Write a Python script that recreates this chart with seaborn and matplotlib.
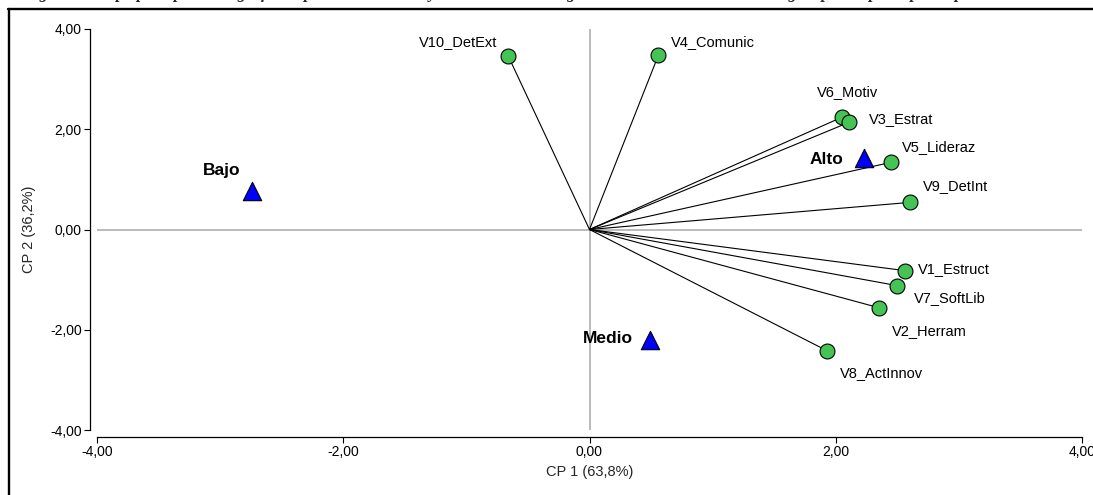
import matplotlib
matplotlib.use("Agg")
import matplotlib.pyplot as plt
import seaborn as sns
import pandas as pd
from matplotlib.lines import Line2D
from matplotlib.ticker import FuncFormatter

# ---------------- data ----------------
variables = ["V10_DetExt", "V4_Comunic", "V6_Motiv", "V3_Estrat", "V5_Lideraz",
             "V9_DetInt", "V1_Estruct", "V7_SoftLib", "V2_Herram", "V8_ActInnov"]
var_cp1 = [-0.66, 0.56, 2.05, 2.11, 2.45, 2.60, 2.56, 2.50, 2.35, 1.93]
var_cp2 = [3.46, 3.48, 2.24, 2.14, 1.34, 0.54, -0.82, -1.12, -1.56, -2.42]

niveles = ["Bajo", "Alto", "Medio"]
niv_cp1 = [-2.74, 2.23, 0.49]
niv_cp2 = [0.77, 1.43, -2.20]

axis_ticks = [-4, -2, 0, 2, 4]
x_label = "CP 1 (63,8%)"
y_label = "CP 2 (36,2%)"
title = ("Figura 4. Mapa perceptual del gráfico biplot de los niveles y las variables "
         "de la gestión de la innovación tecnológica por empresa participante")

# label placement (pixel offsets from the marker, horizontal alignment)
var_label_pos = {
    "V10_DetExt": (-11, 10, "right"),
    "V4_Comunic": (12, 9, "left"),
    "V6_Motiv": (-25, 21, "left"),
    "V3_Estrat": (20, -1, "left"),
    "V5_Lideraz": (11, 11, "left"),
    "V9_DetInt": (13, 12, "left"),
    "V1_Estruct": (13, -2, "left"),
    "V7_SoftLib": (17, -16, "left"),
    "V2_Herram": (13, -27, "left"),
    "V8_ActInnov": (13, -26, "left"),
}
niv_label_pos = {
    "Bajo": (-12, 16, "right"),
    "Alto": (-21, -6, "right"),
    "Medio": (-17, -3, "right"),
}

df_var = pd.DataFrame({"variable": variables, "cp1": var_cp1, "cp2": var_cp2})
df_niv = pd.DataFrame({"nivel": niveles, "cp1": niv_cp1, "cp2": niv_cp2})

# ---------------- style ----------------
sns.set_style("ticks")
plt.rcParams["font.family"] = ["Liberation Sans", "DejaVu Sans"]

W, H = 1093, 495
fig = plt.figure(figsize=(W / 100, H / 100), dpi=100)
ax = fig.add_axes([97 / W, 65 / H, 985 / W, 401 / H])
ax.set_xlim(-4, 4)
ax.set_ylim(-4, 4)

# reference lines
ax.axhline(0, color="#A8A8A8", lw=1.1, zorder=1)
ax.axvline(0, color="#A8A8A8", lw=1.1, zorder=1)

# vectors from origin
for x, y in zip(df_var["cp1"], df_var["cp2"]):
    ax.plot([0, x], [0, y], color="black", lw=0.8, zorder=2)

sns.scatterplot(data=df_var, x="cp1", y="cp2", ax=ax, s=115, color="#44C455",
                edgecolor="black", linewidth=0.8, zorder=3, legend=False)
sns.scatterplot(data=df_niv, x="cp1", y="cp2", ax=ax, marker="^", s=175,
                color="#0000FF", edgecolor="black", linewidth=0.8, zorder=3,
                legend=False)

for name, x, y in zip(df_var["variable"], df_var["cp1"], df_var["cp2"]):
    dx, dy, ha = var_label_pos[name]
    ax.annotate(name, (x, y), xytext=(dx, dy), textcoords="offset pixels",
                ha=ha, va="baseline", fontsize=10.5, color="black")

for name, x, y in zip(df_niv["nivel"], df_niv["cp1"], df_niv["cp2"]):
    dx, dy, ha = niv_label_pos[name]
    ax.annotate(name, (x, y), xytext=(dx, dy), textcoords="offset pixels",
                ha=ha, va="baseline", fontsize=12.5, fontweight="bold",
                color="black")

# axes styling
ax.set_xticks(axis_ticks)
ax.set_yticks(axis_ticks)
fmt = FuncFormatter(lambda v, p: f"{v:.2f}".replace(".", ","))
ax.xaxis.set_major_formatter(fmt)
ax.yaxis.set_major_formatter(fmt)
ax.tick_params(axis="both", length=4, width=0.8, color="black", labelsize=10,
               pad=2, labelcolor="black")
for side in ["top", "right"]:
    ax.spines[side].set_visible(False)
for side in ["left", "bottom"]:
    ax.spines[side].set_position(("outward", 5))
    ax.spines[side].set_color("black")
    ax.spines[side].set_linewidth(0.9)
    ax.spines[side].set_bounds(-4, 4)

ax.set_xlabel(x_label, fontsize=10.5, labelpad=4)
ax.set_ylabel(y_label, fontsize=10.5, labelpad=10)
ax.set_facecolor("white")
fig.patch.set_facecolor("white")

# frame around the figure (cut off at right and bottom)
fig.add_artist(Line2D([8.5 / W, 8.5 / W], [0, (H - 9) / H], transform=fig.transFigure,
                      color="black", lw=1.7))
fig.add_artist(Line2D([8 / W, 1], [(H - 9) / H, (H - 9) / H], transform=fig.transFigure,
                      color="black", lw=1.7))

# title cut off at the very top (only the descenders remain visible)
fig.text(24 / W, (H + 2.5) / H, title, ha="left", va="baseline", fontsize=12,
         fontweight="bold", fontstyle="italic",
         family=["Liberation Serif", "DejaVu Serif"])

fig.savefig("out.png", dpi=100)
